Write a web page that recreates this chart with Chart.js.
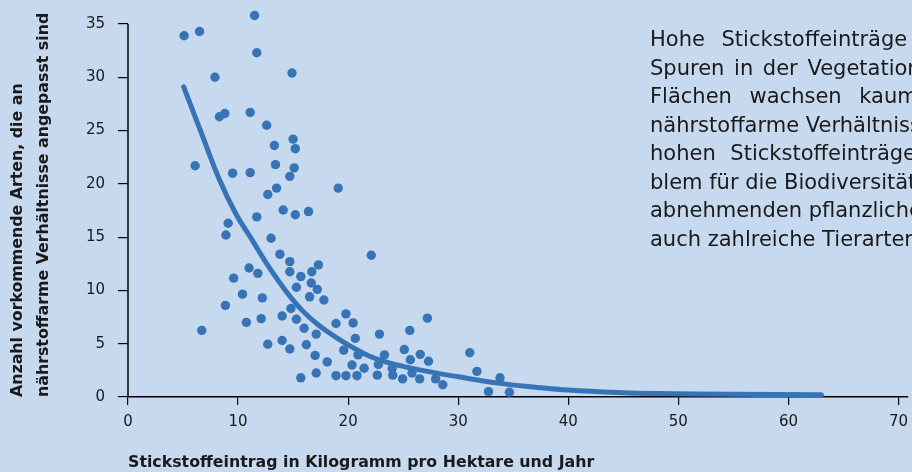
<!DOCTYPE html>
<html>
<head>
<meta charset="utf-8">
<script src="https://cdn.jsdelivr.net/npm/chart.js@4.4.1/dist/chart.umd.min.js"></script>
<style>
  body { margin: 0; background: #c6d9ef; }
  #wrap { position: relative; width: 912px; height: 472px; overflow: hidden; }
  #note {
    position: absolute; left: 650px; top: 25px; width: 262px; overflow: hidden;
    font-family: "DejaVu Sans", sans-serif; font-size: 21px; line-height: 28.5px;
    color: #1a1a1a; white-space: nowrap;
  }
</style>
</head>
<body>
<div id="wrap">
  <canvas id="nitrogenChart" width="912" height="472"></canvas>
  <div id="note"></div>
</div>
<script>
// Messpunkte: Stickstoffeintrag (kg/ha/Jahr) und Anzahl Arten
var pointX = [5.1, 6.5, 11.5, 11.7, 14.9, 7.9, 8.3, 8.8, 11.1, 12.6, 15.0, 15.2, 13.3, 13.4, 15.1, 14.7,
  6.1, 9.5, 11.1, 12.7, 13.5, 19.1, 14.1, 15.2, 16.4, 11.7, 9.1, 8.9, 13.0, 13.8, 14.7, 14.7,
  15.7, 16.7, 17.3, 16.65, 17.2, 15.3, 16.5, 17.8, 11.0, 11.8, 9.6, 10.4, 12.2, 8.85, 14.8, 14.0,
  15.3, 12.1, 10.75, 16.0, 17.1, 6.7, 18.9, 19.8, 12.7, 14.0, 14.7, 16.2, 17.0, 18.1, 19.6, 17.1,
  15.7, 18.9, 19.8, 22.1, 20.45, 20.65, 20.9, 20.35, 21.45, 20.8, 22.85, 23.3, 22.75, 22.65, 24.0, 24.05,
  24.95, 25.1, 25.6, 25.65, 25.8, 26.55, 26.5, 27.3, 27.2, 27.95, 28.6, 31.05, 31.7, 33.8, 32.75, 34.65];
var pointY = [33.9, 34.3, 35.8, 32.3, 30.4, 30.0, 26.3, 26.6, 26.7, 25.5, 24.2, 23.3, 23.6, 21.8, 21.5, 20.7,
  21.7, 21.0, 21.05, 19.0, 19.6, 19.6, 17.55, 17.1, 17.4, 16.9, 16.3, 15.2, 14.9, 13.4, 12.7, 11.75,
  11.3, 11.75, 12.4, 10.7, 10.1, 10.3, 9.4, 9.1, 12.1, 11.6, 11.15, 9.65, 9.3, 8.6, 8.3, 7.6,
  7.3, 7.35, 7.0, 6.45, 5.9, 6.25, 6.9, 7.8, 4.95, 5.3, 4.5, 4.9, 3.9, 3.3, 4.4, 2.25,
  1.8, 2.0, 2.0, 13.3, 6.95, 5.5, 3.95, 3.0, 2.7, 2.0, 5.9, 3.95, 3.05, 2.05, 2.7, 2.05,
  1.7, 4.45, 6.25, 3.5, 2.25, 4.0, 1.7, 3.35, 7.4, 1.7, 1.15, 4.15, 2.4, 1.8, 0.5, 0.45];

// Trendkurve
var curveX = [5.06, 6.8, 8.3, 9.8, 11.3, 12.8, 14.3, 15.8, 17.3, 18.9, 20.4, 21.9, 23.4, 24.9, 26.7,
  30, 33.6, 37.2, 40, 44.4, 48, 55, 63];
var curveY = [29.1, 24.4, 20.4, 17.2, 14.7, 12.2, 10.0, 8.15, 6.75, 5.6, 4.65, 3.85, 3.3, 2.9, 2.5,
  1.9, 1.3, 0.9, 0.65, 0.42, 0.32, 0.25, 0.2];

var xTitle = "Stickstoffeintrag in Kilogramm pro Hektare und Jahr";
var yTitle = ["Anzahl vorkommende Arten, die an", "nährstoffarme Verhältnisse angepasst sind"];

var noteLines = [
  ["Hohe Stickstoffeinträge hinterlassen deutliche", 10],
  ["Spuren in der Vegetation. Auf belasteten", 3],
  ["Flächen wachsen kaum Arten, die an", 11],
  ["nährstoffarme Verhältnisse angepasst sind. Die", 0],
  ["hohen Stickstoffeinträge sind ein grosses Pro-", 8],
  ["blem für die Biodiversität, denn mit den", 0],
  ["abnehmenden pflanzlichen Arten verschwinden", 0],
  ["auch zahlreiche Tierarten.", 0]
];

var blue = "#3674b5";
var ink = "#1a1a1a";

var note = document.getElementById("note");
noteLines.forEach(function (l) {
  var d = document.createElement("div");
  d.textContent = l[0];
  d.style.wordSpacing = l[1] + "px";
  note.appendChild(d);
});

var points = pointX.map(function (x, i) { return {x: x, y: pointY[i]}; });
var curve = curveX.map(function (x, i) { return {x: x, y: curveY[i]}; });

var tickFont = {family: "DejaVu Sans", size: 15};
var titleFont = {family: "DejaVu Sans", size: 15.8, weight: "bold"};

// y axis line only from 0 up to 35, the scale itself runs a bit higher
var yAxisLine = {
  id: "yAxisLine",
  afterDatasetsDraw: function (chart) {
    var y = chart.scales.y, ctx = chart.ctx;
    ctx.save();
    ctx.strokeStyle = "#000";
    ctx.lineWidth = 1.5;
    ctx.beginPath();
    ctx.moveTo(chart.chartArea.left, y.getPixelForValue(35));
    ctx.lineTo(chart.chartArea.left, y.getPixelForValue(0));
    ctx.stroke();
    ctx.restore();
  }
};

new Chart(document.getElementById("nitrogenChart"), {
  type: "scatter",
  data: {
    datasets: [
      {
        type: "line",
        data: curve,
        borderColor: blue,
        borderWidth: 5,
        borderCapStyle: "round",
        tension: 0.4,
        pointRadius: 0,
        fill: false,
        order: 2
      },
      {
        data: points,
        backgroundColor: blue,
        borderWidth: 0,
        pointRadius: 4.7,
        clip: false,
        order: 1
      }
    ]
  },
  plugins: [yAxisLine],
  options: {
    responsive: false,
    animation: false,
    layout: {padding: {top: 14.4, right: 0, bottom: 0, left: 0}},
    plugins: {legend: {display: false}, tooltip: {enabled: false}},
    scales: {
      x: {
        type: "linear",
        min: 0,
        max: 70.8,
        afterFit: function (s) { s.height = 75; s.paddingLeft = 0; s.paddingRight = 0; },
        ticks: {stepSize: 10, includeBounds: false, padding: 8, color: ink, font: tickFont},
        grid: {drawOnChartArea: false, tickLength: 8, color: "#000", lineWidth: 1.2},
        border: {color: "#000", width: 1.5},
        title: {display: true, text: xTitle, align: "start", color: ink, font: titleFont, padding: 0}
      },
      y: {
        min: 0,
        max: 35.9,
        afterFit: function (s) { s.width = 128; s.paddingTop = 0; s.paddingBottom = 0; },
        ticks: {stepSize: 5, includeBounds: false, padding: 13, color: ink, font: tickFont},
        grid: {drawOnChartArea: false, tickLength: 10, color: "#000", lineWidth: 1.2},
        border: {display: false},
        title: {
          display: true, text: yTitle, align: "start", color: ink,
          font: {family: "DejaVu Sans", size: 15.8, weight: "bold", lineHeight: 1.7},
          padding: {top: 4, bottom: 0}
        }
      }
    }
  }
});
</script>
</body>
</html>
